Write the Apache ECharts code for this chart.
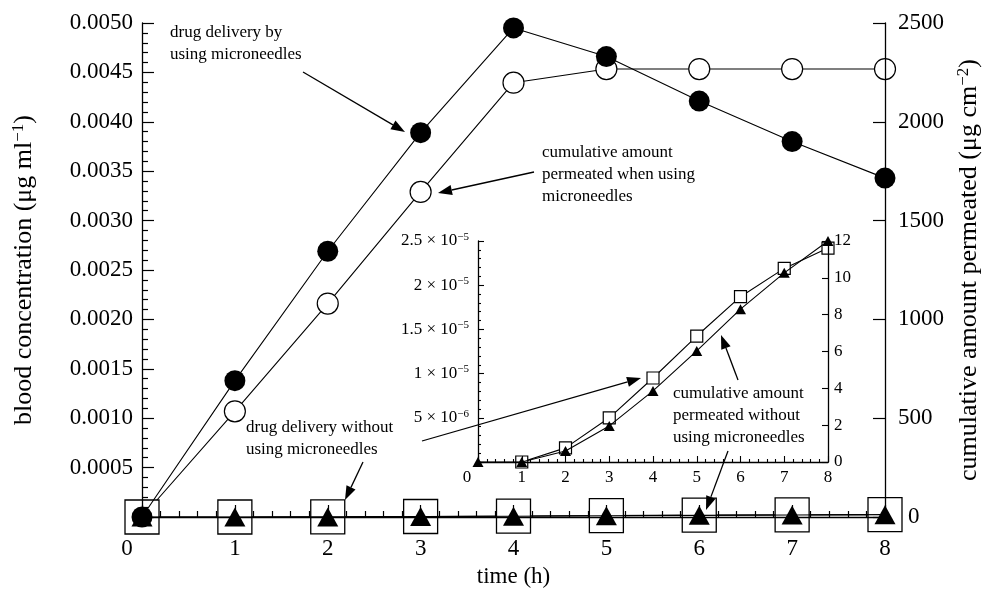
<!DOCTYPE html>
<html>
<head>
<meta charset="utf-8">
<script src="https://cdn.jsdelivr.net/npm/echarts@6/dist/echarts.min.js"></script>
<style>
html,body{margin:0;padding:0;background:#fff;}
#chart{width:989px;height:591px;}
</style>
</head>
<body>
<div id="chart"></div>
<script>
// ---- data ----
const times = [0, 1, 2, 3, 4, 5, 6, 7, 8];
// blood concentration with microneedles (µg/ml) - filled circles
const bloodWithMN = [0, 0.00138, 0.00269, 0.00389, 0.00495, 0.00466, 0.00421, 0.00380, 0.00343];
// cumulative amount permeated with microneedles (µg/cm2) - open circles
const cumulativeWithMN = [0, 535, 1080, 1645, 2198, 2267, 2267, 2267, 2267];
// blood concentration without microneedles (µg/ml) - squares
const bloodWithoutMN = [0, 0, 1.6e-6, 5.0e-6, 9.5e-6, 1.425e-5, 1.87e-5, 2.19e-5, 2.42e-5];
// cumulative amount permeated without microneedles (µg/cm2) - triangles
const cumulativeWithoutMN = [0, 0, 0.6, 1.96, 3.86, 6.03, 8.3, 10.27, 12.0];
// tick labels
const insetLeftTickLabels = ['', '5 × 10{sup|−6}', '1 × 10{sup|−5}', '1.5 × 10{sup|−5}', '2 × 10{sup|−5}', '2.5 × 10{sup|−5}'];
const leftAxisTitle = 'blood concentration (μg ml{sup|−1})';
const rightAxisTitle = 'cumulative amount permeated (μg cm{sup|−2})';
const xAxisTitle = 'time (h)';

const FONT = '"Liberation Serif", "Times New Roman", serif';
const pairs = (arr, from) => arr.map((v, i) => [times[i], v]).slice(from || 0);

const chart = echarts.init(document.getElementById('chart'));

const axisLineStyle = { color: '#000', width: 1.3 };
const supRich = (size, pad) => ({ sup: { fontSize: size, fontFamily: FONT, color: '#000', verticalAlign: 'top', padding: [0, 0, pad, 0] } });

function arrow(x1, y1, x2, y2) {
  const a = Math.atan2(y2 - y1, x2 - x1);
  const L = 14, W = 5;
  const bx = x2 - L * Math.cos(a), by = y2 - L * Math.sin(a);
  const px = -Math.sin(a) * W, py = Math.cos(a) * W;
  return [
    { type: 'line', z: 50, shape: { x1: x1, y1: y1, x2: bx, y2: by }, style: { stroke: '#000', lineWidth: 1.3 } },
    { type: 'polygon', z: 50, shape: { points: [[x2, y2], [bx + px, by + py], [bx - px, by - py]] }, style: { fill: '#000' } }
  ];
}
function label(x, y, txt) {
  return { type: 'text', z: 50, x: x, y: y, style: { text: txt, fontFamily: FONT, fontSize: 17, lineHeight: 22, fill: '#000' } };
}

const graphics = [].concat(
  label(170, 22, 'drug delivery by\nusing microneedles'),
  arrow(303, 72, 405, 132),
  label(542, 142, 'cumulative amount\npermeated when using\nmicroneedles'),
  arrow(534, 172, 438, 193),
  label(246, 417, 'drug delivery without\nusing microneedles'),
  arrow(363, 462, 345, 500),
  arrow(422, 441, 641, 378),
  label(673, 383, 'cumulative amount\npermeated without\nusing microneedles'),
  arrow(738, 380, 721, 335),
  arrow(728, 451, 706, 510)
);

const option = {
  backgroundColor: '#fff',
  animation: false,
  grid: [
    { left: 142, top: 23, right: 104, bottom: 74, outerBoundsMode: 'none', containLabel: false },
    { left: 478, top: 241, right: 161, bottom: 129, outerBoundsMode: 'none', containLabel: false }
  ],
  xAxis: [
    {
      type: 'value', gridIndex: 0, min: 0, max: 8, interval: 1, z: 10,
      name: xAxisTitle, nameLocation: 'middle', nameGap: 48,
      nameTextStyle: { fontFamily: FONT, fontSize: 23, color: '#000' },
      axisLine: { show: true, onZero: false, lineStyle: axisLineStyle },
      axisTick: { show: true, inside: true, length: 12, lineStyle: { color: '#000', width: 1.2 } },
      minorTick: { show: true, splitNumber: 5, length: 6, lineStyle: { color: '#000', width: 1.2 } },
      splitLine: { show: false },
      axisLabel: {
        fontFamily: FONT, fontSize: 23, color: '#000', margin: 20,
        formatter: v => v === 0 ? '{z|0}' : String(v),
        rich: { z: { fontFamily: FONT, fontSize: 23, color: '#000', padding: [0, 30, 0, 0] } }
      }
    },
    {
      type: 'value', gridIndex: 1, min: 0, max: 8, interval: 1, z: 10,
      axisLine: { show: true, onZero: false, lineStyle: axisLineStyle },
      axisTick: { show: true, inside: true, length: 6, lineStyle: { color: '#000', width: 1.1 } },
      minorTick: { show: true, splitNumber: 5, length: 3, lineStyle: { color: '#000', width: 1.1 } },
      splitLine: { show: false },
      axisLabel: {
        fontFamily: FONT, fontSize: 17, color: '#000', margin: 7,
        formatter: v => v === 0 ? '{z|0}' : String(v),
        rich: { z: { fontFamily: FONT, fontSize: 17, color: '#000', padding: [0, 22, 0, 0] } }
      }
    }
  ],
  yAxis: [
    {
      type: 'value', gridIndex: 0, position: 'left', min: 0, max: 0.005, interval: 0.0005, z: 10,
      name: leftAxisTitle, nameLocation: 'middle', nameRotate: 90, nameGap: 104,
      nameTextStyle: { fontFamily: FONT, fontSize: 26, color: '#000', rich: supRich(17, 11) },
      axisLine: { show: true, onZero: false, lineStyle: axisLineStyle },
      axisTick: { show: true, inside: true, length: 12, lineStyle: { color: '#000', width: 1.2 } },
      minorTick: { show: true, splitNumber: 5, length: 6, lineStyle: { color: '#000', width: 1.2 } },
      splitLine: { show: false },
      axisLabel: { fontFamily: FONT, fontSize: 23, color: '#000', margin: 9, formatter: v => v === 0 ? '' : v.toFixed(4) }
    },
    {
      type: 'value', gridIndex: 0, position: 'right', min: 0, max: 2500, interval: 500, z: 10,
      name: rightAxisTitle, nameLocation: 'middle', nameRotate: 90, nameGap: 70,
      nameTextStyle: { fontFamily: FONT, fontSize: 26, color: '#000', rich: supRich(17, 11) },
      axisLine: { show: true, onZero: false, lineStyle: axisLineStyle },
      axisTick: { show: true, inside: true, length: 12, lineStyle: { color: '#000', width: 1.2 } },
      splitLine: { show: false },
      axisLabel: {
        fontFamily: FONT, fontSize: 23, color: '#000', margin: 13,
        formatter: v => v === 0 ? '{z|0}' : String(v),
        rich: { z: { fontFamily: FONT, fontSize: 23, color: '#000', padding: [0, 0, 0, 10] } }
      }
    },
    {
      type: 'value', gridIndex: 1, position: 'left', min: 0, max: 2.5e-5, interval: 5e-6, z: 10,
      axisLine: { show: true, onZero: false, lineStyle: axisLineStyle },
      axisTick: { show: true, inside: true, length: 6, lineStyle: { color: '#000', width: 1.1 } },
      minorTick: { show: true, splitNumber: 5, length: 3, lineStyle: { color: '#000', width: 1.1 } },
      splitLine: { show: false },
      axisLabel: {
        fontFamily: FONT, fontSize: 17, color: '#000', margin: 9,
        formatter: v => insetLeftTickLabels[Math.round(v / 5e-6)],
        rich: supRich(11, 8)
      }
    },
    {
      type: 'value', gridIndex: 1, position: 'right', min: 0, max: 12, interval: 2, z: 10,
      axisLine: { show: true, onZero: false, lineStyle: axisLineStyle },
      axisTick: { show: true, inside: true, length: 6, lineStyle: { color: '#000', width: 1.1 } },
      splitLine: { show: false },
      axisLabel: { fontFamily: FONT, fontSize: 17, color: '#000', margin: 6 }
    }
  ],
  series: [
    {
      type: 'line', xAxisIndex: 0, yAxisIndex: 1, z: 3, data: pairs(cumulativeWithMN),
      symbol: 'circle', symbolSize: 21,
      itemStyle: { color: '#fff', borderColor: '#000', borderWidth: 1.2 },
      lineStyle: { color: '#000', width: 1.1 }
    },
    {
      type: 'line', xAxisIndex: 0, yAxisIndex: 0, z: 4, data: pairs(bloodWithoutMN),
      symbol: 'rect', symbolSize: 34,
      itemStyle: { color: '#fff', borderColor: '#000', borderWidth: 1.3 },
      lineStyle: { color: '#000', width: 1.1 }
    },
    {
      type: 'line', xAxisIndex: 0, yAxisIndex: 1, z: 5, data: pairs(cumulativeWithoutMN),
      symbol: 'triangle', symbolSize: [21, 19],
      itemStyle: { color: '#000' },
      lineStyle: { color: '#000', width: 1.1 }
    },
    {
      type: 'line', xAxisIndex: 0, yAxisIndex: 0, z: 6, data: pairs(bloodWithMN),
      symbol: 'circle', symbolSize: 21,
      itemStyle: { color: '#000' },
      lineStyle: { color: '#000', width: 1.1 }
    },
    {
      type: 'line', xAxisIndex: 1, yAxisIndex: 2, z: 7, data: pairs(bloodWithoutMN, 1),
      symbol: 'rect', symbolSize: 12,
      itemStyle: { color: '#fff', borderColor: '#000', borderWidth: 1.2 },
      lineStyle: { color: '#000', width: 1.1 }
    },
    {
      type: 'line', xAxisIndex: 1, yAxisIndex: 3, z: 8, data: pairs(cumulativeWithoutMN),
      symbol: 'triangle', symbolSize: [11, 10],
      itemStyle: { color: '#000' },
      lineStyle: { color: '#000', width: 1.1 }
    }
  ],
  graphic: graphics
};
chart.setOption(option);
</script>
</body>
</html>
